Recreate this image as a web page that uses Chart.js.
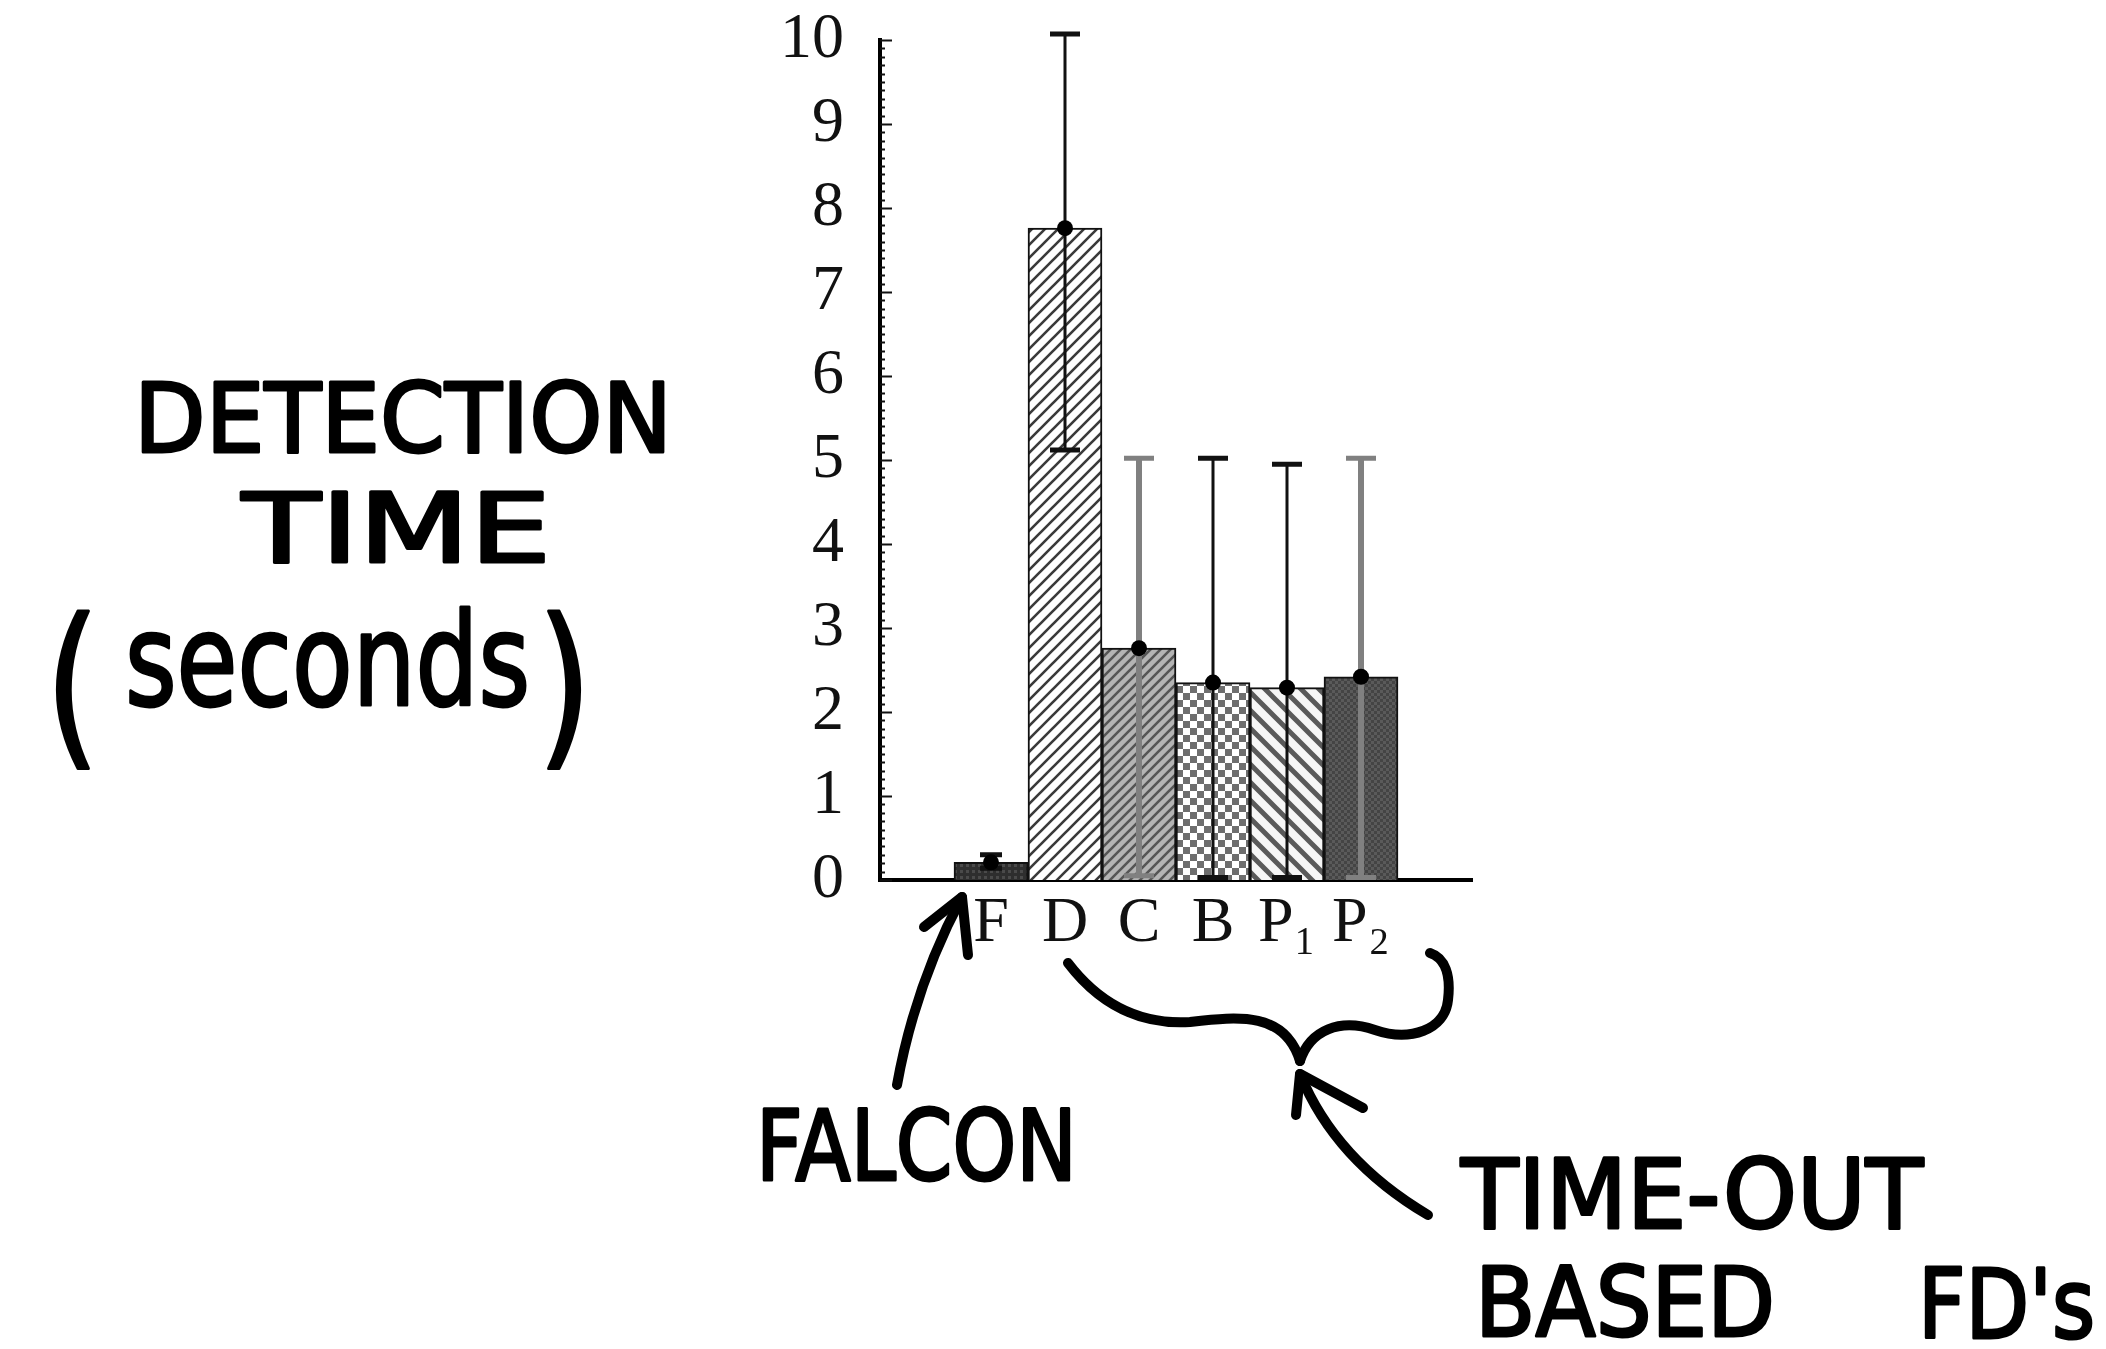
<!DOCTYPE html>
<html>
<head>
    <title>Detection Time</title>
    <script src="https://cdn.jsdelivr.net/npm/chart.js"></script>
    <style>
        body {
            margin: 0;
            background: #ffffff;
        }

        .wrap {
            position: relative;
            width: 2106px;
            height: 1349px;
        }

        .wrap canvas {
            position: absolute;
            left: 0;
            top: 0;
        }

        /* hand-drawn notes sit on top of the chart */
        .notes {
            position: absolute;
            left: 0;
            top: 0;
            pointer-events: none;
        }

        .notes text {
            font-family: 'DejaVu Sans', sans-serif;
            fill: #000;
            stroke: #000;
            stroke-width: 3;
            stroke-linejoin: round;
        }

        .notes path {
            fill: none;
            stroke: #000;
            stroke-width: 10;
            stroke-linecap: round;
            stroke-linejoin: round;
        }
    </style>
</head>
<body>
<div class="wrap">
    <canvas id="detectionChart" width="2106" height="1349"></canvas>

    <svg class="notes" width="2106" height="1349">
        <text x="134" y="452" font-size="96" textLength="538" lengthAdjust="spacingAndGlyphs">DETECTION</text>
        <text x="242" y="562" font-size="96" textLength="309" lengthAdjust="spacingAndGlyphs">TIME</text>
        <text x="45" y="745" font-size="176" textLength="55" lengthAdjust="spacingAndGlyphs">(</text>
        <text x="125" y="705" font-size="128" textLength="405" lengthAdjust="spacingAndGlyphs">seconds</text>
        <text x="537" y="745" font-size="176" textLength="55" lengthAdjust="spacingAndGlyphs">)</text>

        <text x="756" y="1180" font-size="98" textLength="321" lengthAdjust="spacingAndGlyphs">FALCON</text>
        <text x="1461" y="1228" font-size="96" textLength="462" lengthAdjust="spacingAndGlyphs">TIME-OUT</text>
        <text x="1475" y="1336" font-size="96" textLength="300" lengthAdjust="spacingAndGlyphs">BASED</text>
        <text x="1918" y="1338" font-size="96" textLength="177" lengthAdjust="spacingAndGlyphs">FD's</text>

        <!-- arrow to falcon bar -->
        <path d="M 897 1085 Q 915 985 962 897"/>
        <path d="M 924 927 L 962 897 L 968 955"/>
        <!-- brace under the time-out detectors -->
        <path d="M 1068 963 C 1100 1005, 1140 1025, 1190 1022 C 1240 1016, 1285 1012, 1300 1061"/>
        <path d="M 1300 1061 C 1310 1030, 1340 1018, 1375 1030 C 1410 1042, 1445 1030, 1448 1000 C 1451 975, 1445 958, 1430 953"/>
        <!-- arrow from the time-out label -->
        <path d="M 1428 1215 Q 1335 1160 1300 1074"/>
        <path d="M 1296 1115 L 1300 1074 L 1363 1108"/>
    </svg>
</div>

<script>
    // categories (first and last slots are empty on the original axis)
    const labels = ['', 'F', 'D', 'C', 'B', 'P\u2081', 'P\u2082', ''];
    // mean detection time (s)
    const meanTimes = [null, 0.21, 7.76, 2.76, 2.35, 2.29, 2.42, null];
    // error bar ends (s)
    const errLow = [null, 0.14, 5.12, 0.05, 0.03, 0.03, 0.03, null];
    const errHigh = [null, 0.30, 10.07, 5.02, 5.02, 4.95, 5.02, null];
    // y axis ticks
    const yTicks = [0, 1, 2, 3, 4, 5, 6, 7, 8, 9, 10];

    const errColors = ['#111', '#111', '#111', '#808080', '#111', '#111', '#808080', '#111'];

    function makePattern(size, draw) {
        const c = document.createElement('canvas');
        c.width = size;
        c.height = size;
        const g = c.getContext('2d');
        draw(g, size);
        return g.createPattern(c, 'repeat');
    }

    function hatch(g, s, bg, fg, lw, back) {
        g.fillStyle = bg;
        g.fillRect(0, 0, s, s);
        g.strokeStyle = fg;
        g.lineWidth = lw;
        g.beginPath();
        if (!back) {
            g.moveTo(0, s); g.lineTo(s, 0);
            g.moveTo(-s / 2, s / 2); g.lineTo(s / 2, -s / 2);
            g.moveTo(s / 2, s * 1.5); g.lineTo(s * 1.5, s / 2);
        } else {
            g.moveTo(0, 0); g.lineTo(s, s);
            g.moveTo(-s / 2, s / 2); g.lineTo(s / 2, s * 1.5);
            g.moveTo(s / 2, -s / 2); g.lineTo(s * 1.5, s / 2);
        }
        g.stroke();
    }

    const fills = [
        '#333',
        makePattern(6, (g, s) => { g.fillStyle = '#2e2e2e'; g.fillRect(0, 0, s, s); g.fillStyle = '#4a4a4a'; g.fillRect(0, 0, 3, 3); }),
        makePattern(13, (g, s) => hatch(g, s, '#ffffff', '#3a3a3a', 2.6, false)),
        makePattern(10, (g, s) => hatch(g, s, '#b4b4b4', '#555555', 2.6, false)),
        makePattern(14, (g, s) => {
            g.fillStyle = '#ffffff'; g.fillRect(0, 0, s, s);
            g.fillStyle = '#6e6e6e'; g.fillRect(0, 0, 7, 7); g.fillRect(7, 7, 7, 7);
        }),
        makePattern(18, (g, s) => hatch(g, s, '#f6f6f6', '#5a5a5a', 5, true)),
        makePattern(6, (g, s) => { g.fillStyle = '#444444'; g.fillRect(0, 0, s, s); g.fillStyle = '#5a5a5a'; g.fillRect(0, 0, 3, 3); g.fillRect(3, 3, 3, 3); }),
        '#333'
    ];

    // inward major ticks plus the dotted minor ticks of the y axis
    const yTickMarks = {
        id: 'yTickMarks',
        afterDraw(chart) {
            const y = chart.scales.y;
            const ctx = chart.ctx;
            const x0 = chart.chartArea.left;
            ctx.save();
            ctx.strokeStyle = '#111';
            ctx.lineWidth = 2;
            ctx.beginPath();
            for (let i = 0; i <= 100; i++) {
                const py = Math.round(y.getPixelForValue(i / 10)) + 0.5;
                const len = i % 10 === 0 ? 12 : 5;
                ctx.moveTo(x0, py);
                ctx.lineTo(x0 + len, py);
            }
            ctx.stroke();
            ctx.restore();
        }
    };

    // error bars with a dot at the mean
    const errorBars = {
        id: 'errorBars',
        afterDatasetsDraw(chart) {
            const ctx = chart.ctx;
            const y = chart.scales.y;
            const meta = chart.getDatasetMeta(0);
            ctx.save();
            meta.data.forEach((bar, i) => {
                if (meanTimes[i] === null) return;
                const x = bar.x;
                const top = y.getPixelForValue(errHigh[i]);
                const bottom = y.getPixelForValue(errLow[i]);
                const capW = i === 1 ? 22 : 30;
                const gray = errColors[i] !== '#111';
                ctx.strokeStyle = errColors[i];
                ctx.lineWidth = gray ? 6 : 3;
                ctx.beginPath();
                ctx.moveTo(x, top);
                ctx.lineTo(x, bottom);
                ctx.stroke();
                ctx.lineWidth = 5;
                ctx.beginPath();
                ctx.moveTo(x - capW / 2, top);
                ctx.lineTo(x + capW / 2, top);
                ctx.moveTo(x - capW / 2, bottom);
                ctx.lineTo(x + capW / 2, bottom);
                ctx.stroke();
                ctx.fillStyle = '#000';
                ctx.beginPath();
                ctx.arc(x, y.getPixelForValue(meanTimes[i]), 8, 0, Math.PI * 2);
                ctx.fill();
            });
            ctx.restore();
        }
    };

    const tickFont = { family: "'Liberation Serif', 'DejaVu Serif', serif", size: 64 };

    new Chart(document.getElementById('detectionChart'), {
        type: 'bar',
        data: {
            labels: labels,
            datasets: [{
                label: 'Detection time (s)',
                data: meanTimes,
                backgroundColor: fills,
                borderColor: '#111',
                borderWidth: 2,
                categoryPercentage: 1,
                barPercentage: 1
            }]
        },
        options: {
            responsive: false,
            animation: false,
            layout: { padding: { top: 40, right: 634, bottom: 389, left: 0 } },
            plugins: {
                legend: { display: false },
                tooltip: { enabled: false }
            },
            scales: {
                x: {
                    grid: { display: false, drawTicks: false },
                    border: { color: '#000', width: 4 },
                    ticks: { font: tickFont, color: '#111', padding: 6, maxRotation: 0, autoSkip: false },
                    afterFit: s => { s.height = 80; }
                },
                y: {
                    min: 0,
                    max: 10,
                    afterBuildTicks: s => { s.ticks = yTicks.map(v => ({ value: v })); },
                    grid: { display: false, drawTicks: false },
                    border: { color: '#000', width: 4 },
                    ticks: { font: tickFont, color: '#111', padding: 36 },
                    afterFit: s => { s.width = 880; s.paddingTop = 0; }
                }
            }
        },
        plugins: [yTickMarks, errorBars]
    });
</script>
</body>
</html>
